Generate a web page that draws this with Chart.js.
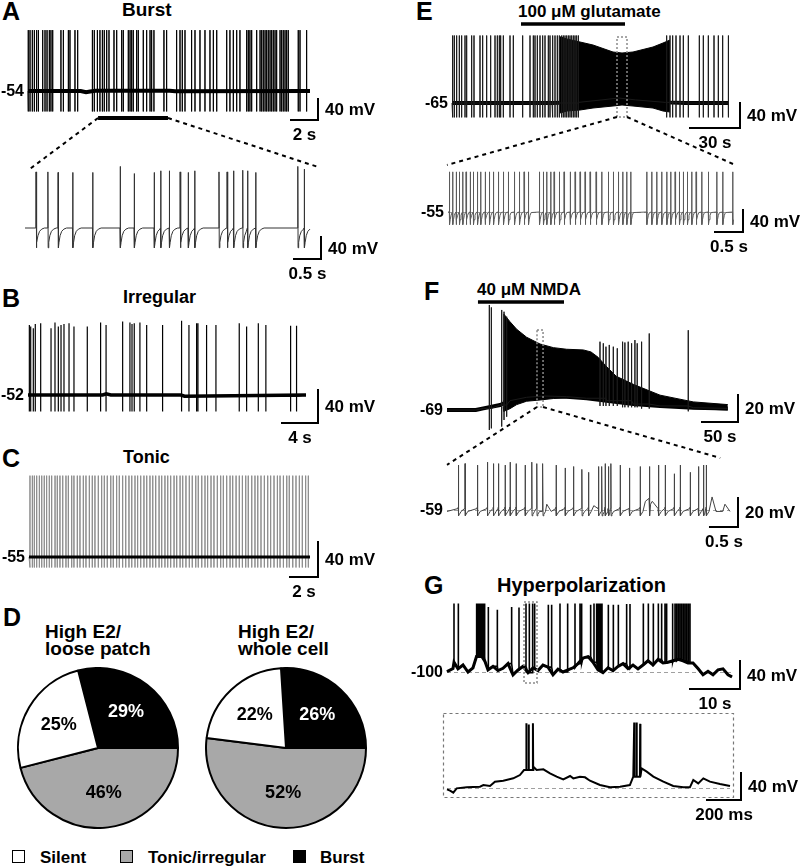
<!DOCTYPE html>
<html>
<head>
<meta charset="utf-8">
<title>Firing patterns</title>
<script src="https://cdn.jsdelivr.net/npm/chart.js"></script>
<style>
html,body{margin:0;padding:0;background:#fff;}
#fig{position:relative;width:800px;height:867px;overflow:hidden;background:#fff;font-family:"Liberation Sans",Arial,Helvetica,sans-serif;font-weight:bold;color:#000;}
#fig canvas{position:absolute;}
.t{position:absolute;white-space:nowrap;line-height:1;}
.L{font-size:25px;}
.sq{position:absolute;width:11px;height:11px;border:1.5px solid #000;}
</style>
</head>
<body>
<div id="fig">
  <div class="t L" style="left:2px;top:-1px">A</div>
  <div class="t" style="left:122px;top:0px;font-size:19px">Burst</div>
  <div class="t L" style="left:2px;top:286px">B</div>
  <div class="t" style="left:123px;top:288px;font-size:18px">Irregular</div>
  <div class="t L" style="left:2px;top:446px">C</div>
  <div class="t" style="left:123px;top:448px;font-size:18px">Tonic</div>
  <div class="t L" style="left:3px;top:605px">D</div>
  <div class="t" style="left:45px;top:622px;font-size:19px">High E2/</div>
  <div class="t" style="left:45px;top:639px;font-size:19px">loose patch</div>
  <div class="t" style="left:238px;top:622px;font-size:19px">High E2/</div>
  <div class="t" style="left:238px;top:639px;font-size:19px">whole cell</div>
  <div class="sq" style="left:12px;top:850px;background:#fff"></div>
  <div class="t" style="left:40px;top:849px;font-size:17px">Silent</div>
  <div class="sq" style="left:120px;top:850px;background:#a8a8a8"></div>
  <div class="t" style="left:148px;top:849px;font-size:17px">Tonic/irregular</div>
  <div class="sq" style="left:293px;top:850px;background:#000"></div>
  <div class="t" style="left:320px;top:849px;font-size:17px">Burst</div>
  <div class="t L" style="left:416px;top:-1px">E</div>
  <div class="t" style="left:518px;top:3px;font-size:17px">100 μM glutamate</div>
  <div class="t L" style="left:424px;top:279px">F</div>
  <div class="t" style="left:477px;top:281px;font-size:17px">40 μM NMDA</div>
  <div class="t L" style="left:424px;top:573px">G</div>
  <div class="t" style="left:497px;top:575px;font-size:20px">Hyperpolarization</div>
</div>
<script>
// ================= DATA =================
// Panel A – burst firing (time s, membrane potential mV)
const aSpikeTimes = [0.02,0.15,0.32,0.47,0.64,0.77,1.09,1.26,1.41,1.58,1.70,1.83,2.44,2.62,2.99,3.11,3.48,3.68,4.77,4.91,5.14,5.33,5.51,5.65,5.83,6.00,6.37,6.57,6.94,7.06,7.43,7.56,7.68,7.80,8.05,8.17,8.54,8.79,9.04,9.16,9.33,10.07,10.27,11.01,11.26,11.43,11.63,12.12,12.37,12.74,13.11,13.48,13.73,13.98,14.72,14.96,15.21,15.46,15.70,16.20,16.32,16.44,16.57,16.94,17.19,17.31,17.43,17.56,17.68,17.80,17.93,18.05,18.17,18.30,18.42,18.67,18.79,18.91,19.04,19.16,19.28,20.02,20.15,20.64];
const aSpikePeak = 62;
const aSpikeTrough = -93;
const aBaseT = [0, 3.9, 4.3, 4.6, 5.0, 10.5, 10.9, 20.89];
const aBaseV = [-54, -54, -56.5, -55, -53.5, -53.5, -54.5, -54];
const aDuration = 20.89;
const aBurstWindow = [5.19, 10.37];
// Panel A inset (expanded burst window)
const aInsetTimes = [0.20,0.42,0.61,0.88,1.25,1.76,2.02,2.39,2.51,2.67,2.87,3.02,3.14,3.59,3.74,3.86,4.03,4.12,4.27,5.05,5.17];
const aInsetPeaks = [48,48,47,47,47,58,45,47,50,50,48,47,50,48,48,50,51,50,47,58,53];
const aInsetTrough = -90;
const aInsetBaseT = [0, 5.28];
const aInsetBaseV = [-54, -54];
const aInsetShape = [[0,0],[0.004,'P'],[0.009,'T'],[0.02,-26],[0.04,-14],[0.07,-6],[0.11,-2],[0.16,0]];
const aInsetDuration = 5.28;

// Panel B – irregular
const bSpikeTimes = [0.15,0.30,0.59,0.81,1.41,2.56,3.00,3.37,3.67,4.00,4.56,5.11,6.59,8.07,8.67,10.52,11.33,11.56,11.81,12.44,13.19,14.96,17.07,17.89,18.74,18.89,19.85,20.89,23.48,24.30,25.60,26.44,29.19,29.85];
const bSpikePeaks = [33,31,29,34,35,29,36,31,33,34,35,31,31,36,33,37,36,34,35,36,33,33,38,33,35,35,33,33,35,31,35,33,32,32];
const bSpikeTrough = -72;
const bBaseT = [0, 8.3, 8.7, 9.2, 17.0, 17.4, 30.9];
const bBaseV = [-52, -52, -50.5, -52, -52, -53.5, -52];
const bDuration = 30.9;

// Panel C – tonic
const cSpikeTimes = [0.07,0.24,0.38,0.55,0.74,0.91,1.09,1.26,1.45,1.62,1.86,2.02,2.21,2.41,2.64,2.81,3.05,3.21,3.45,3.64,3.88,4.07,4.31,4.52,4.71,4.95,5.19,5.38,5.59,5.84,6.02,6.26,6.45,6.69,6.91,7.14,7.34,7.57,7.76,7.98,8.21,8.41,8.64,8.84,9.05,9.29,9.48,9.71,9.91,10.12,10.36,10.55,10.79,10.98,11.21,11.45,11.66,11.91,12.09,12.34,12.57,12.76,13.0,13.21,13.45,13.69,13.88,14.12,14.36,14.55,14.79,15.02,15.24,15.48,15.66,15.91,16.14,16.34,16.57,16.81,17.05,17.26,17.5,17.74,17.93,18.17,18.41,18.59,18.84,19.07,19.31,19.52,19.76,19.95];
const cSpikePeak = 38;
const cSpikeTrough = -67;
const cBaseT = [0, 20.07];
const cBaseV = [-55, -55];
const cDuration = 20.07;

// Panel D – proportions of firing types (%)
const pieCategories = ['Silent', 'Tonic/irregular', 'Burst'];
const loosePatchPct = [25, 46, 29];
const wholeCellPct = [22, 52, 26];

// Panel E – 100 µM glutamate (time s)
const eSpikeTimes = [0.4,1.4,2.8,4.4,5.8,7.8,8.8,11.8,13.2,16.8,18.4,20.8,23.2,25.8,27.2,28.4,29.2,30.8,34.8,36.8,42.4,46.8,48.8,49.8,51.2,52.8,54.4,55.8,57.8,58.8,60.4,61.8,63.2,64.4,65.8,66.8,67.8,68.8,69.8,70.8,71.8,72.8,73.8,74.8,75.8,128.8,130.8,132.4,134.4,136.8,138.8,141.8,148.4,150.8,153.8,157.2,159.8,162.4,165.8];
const eSpikePeak = 43;
const eSpikeTrough = -88;
const eBaseT = [0, 60, 76, 90, 100, 110, 128, 140, 166];
const eBaseV = [-65, -65, -64, -60, -57, -60, -64, -65, -65];
const eDenseT = [64.8, 69, 76.8, 84.6, 96.6, 102, 108.6, 120.6, 126.6, 130.8];
const eDenseTop = [41, 37.4, 32.6, 27.8, 16.6, 15, 16.6, 24.6, 31, 35.8];
const eDenseBottom = [-81, -77.8, -76.2, -73, -69.8, -68.2, -69.8, -73, -77.8, -79.4];
const eDuration = 166.2;
const eDrugWindow = [41.4, 103.8];
const eZoomWindow = [99, 105];
// Panel E inset
const eInsetTimes = [0.024,0.083,0.143,0.202,0.262,0.321,0.393,0.452,0.524,0.583,0.661,0.738,0.810,0.899,0.988,1.077,1.185,1.274,1.357,1.435,1.631,1.702,1.762,1.833,1.893,1.988,2.071,2.179,2.268,2.357,2.446,2.536,2.643,2.744,2.863,2.952,3.042,3.119,3.190,3.262,3.548,3.637,3.726,3.815,3.905,3.976,4.054,4.131,4.202,4.274,4.351,4.429,4.530,4.649,4.798,4.905,5.083];
const eInsetPeak = 18;
const eInsetTrough = -78;
const eInsetBaseT = [0, 5.09];
const eInsetBaseV = [-55, -55];
const eInsetShape = [[0,0],[0.002,'P'],[0.005,'T'],[0.015,-14],[0.03,-6],[0.05,-1]];
const eInsetDuration = 5.09;

// Panel F – 40 µM NMDA (time s)
const fSpikeTimes = [58.8,61.6,76,79.2,82.9,212.5,217.1,220.8,225.4,231,236.5,243.9,247.1,251.7,256.4,261,264.2,270.3,280.9,335.1];
const fSpikePeaks = [8.8,7.0,5.1,3.8,0.1,-18.4,-19.6,-22.1,-20.8,-22.1,-23.3,-18.4,-19,-18.4,-19.6,-17.2,-19.6,-18.4,-12.3,-9.9];
const fSpikeTroughs = [-83.8,-82.6,-81.3,-76.4,-74,-66,-66,-66,-66,-66,-66,-67,-67,-67,-67,-67,-67,-68,-68,-70];
const fBaseT = [0, 40, 50.5, 73.6, 87.5, 110.6, 133.8, 166.2, 194, 221.8, 258.8, 295.9, 342.2, 390];
const fBaseV = [-69, -69, -67.8, -65.3, -62.1, -59.6, -58.6, -59.1, -60.3, -62.1, -64.6, -66, -67.3, -67.8];
const fDenseT = [78, 79, 87.5, 96.8, 110.6, 129.2, 147.7, 166.2, 189.4, 200, 210, 220, 235, 258.8, 295.9, 342, 390];
const fDenseTop = [-62, 2, -3.6, -9.2, -15.1, -20.1, -22.8, -24, -24.5, -26, -30, -36, -44, -50, -58, -63, -65];
const fDenseBottom = [-67, -70, -68, -65, -62.5, -61.6, -60.5, -60, -60, -60.3, -60.7, -61.2, -62, -63.5, -66, -68, -69];
const fDuration = 390.3;
const fDrugWindow = [43, 162.5];
const fZoomWindow = [125, 133.4];
// Panel F inset
const fInsetTimes = [0.202,0.321,0.542,0.720,0.827,0.917,1.036,1.125,1.232,1.393,1.512,1.601,1.708,1.946,2.107,2.256,2.405,2.524,2.702,2.762,2.821,2.881,2.923,3.089,3.256,3.446,3.613,3.774,3.893,4.054,4.161,4.339,4.488,4.577,4.625];
const fInsetPeaks = [-28,-27,-28,-26,-27,-27,-28,-26,-27,-28,-26,-27,-27,-28,-30,-29,-31,-33,-29,-29,-27,-29,-27,-28,-30,-29,-29,-28,-28,-34,-28,-33,-29,-28,-28];
const fInsetTrough = -63;
const fInsetBaseT = [0, 1.70, 1.78, 1.86, 2.55, 2.62, 2.70, 3.45, 3.54, 3.62, 4.66, 4.73, 4.80, 4.92, 4.96, 5.05];
const fInsetBaseV = [-60, -60, -55, -60, -60, -56, -60, -60, -53, -60, -60, -50, -60, -60, -55, -60];
const fInsetShape = [[-0.008,2],[0,3],[0.002,'P'],[0.006,'T'],[0.02,-2],[0.05,0]];
const fInsetDuration = 5.05;

// Panel G – hyperpolarized cell (time s)
const gSlowT = [0,1.2,1.4,2.2,3.2,4.2,5.2,5.9,7.0,7.6,8.2,8.6,9.2,10.2,11.2,12.2,13.2,14.2,15.2,16.2,17.2,18.2,19.2,20.2,21.2,22.2,23.2,24.2,25.2,26.2,27.2,28.2,29.2,30.2,31.2,32.2,33.2,34.2,35.2,36.2,37.2,38.2,39.2,40.2,41.2,42.2,43.2,44.2,45.2,46.2,47.2,48.2,49.2,50.2,51.2,52.2,53.2,54.2,55.2,56.2,57];
const gSlowV = [-99.5,-95,-86,-95.5,-90,-100,-94,-78,-78,-85,-97,-95,-92,-98,-94.8,-88,-104,-97,-92,-101,-94,-98,-90,-93,-104,-96,-100,-97,-94,-88,-80,-78,-86,-97,-101,-94,-98,-92,-88,-95,-90,-95.5,-90,-84,-90,-82,-87,-86,-84,-82,-84,-87,-87,-95,-104,-99,-104,-97,-95.5,-104,-107];
const gSpikeTimes = [1.4,2.27,5.93,6.2,6.47,6.73,7.0,7.27,7.53,8.27,10.07,12.93,14.4,15.8,16.47,17.13,17.53,20.27,20.93,22.6,24.13,25.6,26.6,26.93,28.73,29.4,29.93,30.2,30.47,30.73,31.0,32.27,33.27,34.27,35.93,36.6,39.27,40.27,41.27,42.27,42.93,43.6,43.93,45.13,45.6,45.93,46.27,46.6,46.93,47.27,47.6,47.93,48.27,48.6];
const gSpikePeaks = [-2,-2,-2,-2,-2,-2,-2,-2,-2,-7,-11,-7,-8,-2,-2,-2,-2,-4,-4,-2,-2,-2,-2,-2,-4,-2,-2,-2,-2,-2,-2,-4,-4,-4,-3,-3,-2,-2,-2,-2,-2,-2,-2,-2,-2,-2,-2,-2,-2,-2,-2,-2,-2,-2];
const gDuration = 57;
const gZoomWindow = [15.4, 18];
// Panel G inset
const gInsetSlowT = [0,0.018,0.037,0.057,0.116,0.194,0.214,0.253,0.282,0.331,0.390,0.429,0.453,0.508,0.527,0.567,0.606,0.645,0.684,0.724,0.743,0.782,0.812,0.841,0.900,0.959,1.018,1.076,1.096,1.145,1.175,1.214,1.273,1.331,1.390,1.429,1.449,1.478,1.508,1.547,1.606,1.665];
const gInsetSlowV = [-102,-104,-106.9,-100.5,-99,-98,-95.6,-97,-90.6,-89.2,-85.7,-80.8,-73.4,-68.4,-73.4,-72.4,-78.3,-83.2,-87.2,-82.2,-85.7,-83.2,-84.2,-89.2,-95.6,-99,-98,-95.6,-83.2,-70.9,-75.8,-83.2,-90.6,-97,-99,-99,-88.2,-93.1,-85.7,-90.6,-94.1,-97];
const gInsetSpikeTimes = [0.465, 0.479, 0.504, 1.100, 1.114, 1.135];
const gInsetSpikePeaks = [-4, -6, -4, -3, -3, -5];
const gInsetDuration = 1.665;

// ================= HELPERS =================
Chart.defaults.font.family = '"Liberation Sans", Arial, sans-serif';
const FONT = '"Liberation Sans", Arial, sans-serif';
const fig = document.getElementById('fig');

function baseAt(bT, bV, t) { let v = bV[0]; for (let i = 0; i < bT.length && bT[i] <= t; i++) v = bV[i]; return v; }
function pick(p, i) { return Array.isArray(p) ? p[i] : p; }
function pairs(T, V) { return T.map((t, i) => ({x: t, y: V[i]})); }

// Build a voltage trace from a slow baseline plus spikes placed at the listed times
function buildTrace(o) {
  const spikes = o.spikeT || [];
  const shape = o.shape || [[0,0],[0,'P'],[0,'T'],[0,0]];
  const first = shape[0][0], span = shape[shape.length - 1][0];
  const pts = []; let k = 0;
  o.baseT.forEach((t, i) => {
    const inside = spikes.some(s => t > s + first && t < s + span);
    if (!inside) pts.push({x: t, y: o.baseV[i], k: k++});
  });
  spikes.forEach((s, i) => {
    const b = baseAt(o.baseT, o.baseV, s);
    const next = i + 1 < spikes.length ? spikes[i + 1] + first : Infinity;
    shape.forEach(([dt, dv], j) => {
      const x = s + dt;
      if (j > 0 && x >= next) return;
      const y = dv === 'P' ? pick(o.peak, i) : dv === 'T' ? pick(o.trough, i) : b + dv;
      pts.push({x, y, k: k++});
    });
  });
  pts.sort((p, q) => (p.x - q.x) || (p.k - q.k));
  return pts.map(p => ({x: p.x, y: p.y}));
}

function ds(data, color, width, extra) {
  return Object.assign({data, borderColor: color, borderWidth: width, pointRadius: 0, fill: false, tension: 0, clip: false, borderJoinStyle: 'miter'}, extra || {});
}

function decor(cfg) {
  return {
    id: 'decor',
    beforeDatasetsDraw(chart) {
      const {ctx, chartArea: a, scales: {x, y}} = chart;
      ctx.save();
      if (cfg.dashedRef !== undefined) {
        ctx.strokeStyle = '#a0a0a0'; ctx.lineWidth = 1; ctx.setLineDash([4, 3]);
        const py = Math.round(y.getPixelForValue(cfg.dashedRef)) + 0.5;
        ctx.beginPath(); ctx.moveTo(a.left, py); ctx.lineTo(a.right, py); ctx.stroke();
      }
      if (cfg.frame) {
        const f = cfg.frame;
        ctx.strokeStyle = '#777'; ctx.lineWidth = 1.2; ctx.setLineDash([3, 3]);
        ctx.strokeRect(a.left - f[0] + 0.5, a.top - f[1] + 0.5, a.right - a.left + f[0] + f[2], a.bottom - a.top + f[1] + f[3]);
      }
      ctx.restore();
    },
    afterDatasetsDraw(chart) {
      const {ctx, chartArea: a, scales: {x, y}} = chart;
      const ox = cfg.box[0], oy = cfg.box[1];
      ctx.save();
      if (cfg.rest) {
        ctx.font = 'bold 16px ' + FONT; ctx.fillStyle = '#000';
        ctx.textAlign = 'right'; ctx.textBaseline = 'middle';
        ctx.fillText(cfg.rest.text, a.left - 4, y.getPixelForValue(cfg.rest.val) + 1);
      }
      (cfg.hbars || []).forEach(h => {
        ctx.strokeStyle = '#000'; ctx.lineWidth = h.w; ctx.setLineDash([]); ctx.lineCap = 'butt';
        ctx.beginPath();
        ctx.moveTo(x.getPixelForValue(h.t0), y.getPixelForValue(h.v));
        ctx.lineTo(x.getPixelForValue(h.t1), y.getPixelForValue(h.v));
        ctx.stroke();
      });
      if (cfg.zoomBox) {
        const z = cfg.zoomBox;
        const x0 = x.getPixelForValue(z.t0), x1 = x.getPixelForValue(z.t1);
        const y0 = y.getPixelForValue(z.v1), y1 = y.getPixelForValue(z.v0);
        ctx.strokeStyle = '#8a8a8a'; ctx.lineWidth = 1.5; ctx.setLineDash([2, 2]);
        ctx.strokeRect(x0, y0, x1 - x0, y1 - y0);
      }
      const sb = cfg.bar;
      if (sb) {
        const cx = sb.x - ox, cy = sb.y - oy;
        const hl = x.getPixelForValue(sb.dt) - x.getPixelForValue(0);
        const vl = y.getPixelForValue(0) - y.getPixelForValue(sb.dv);
        ctx.setLineDash([]); ctx.strokeStyle = '#000'; ctx.lineWidth = 2; ctx.lineCap = 'square';
        ctx.beginPath(); ctx.moveTo(cx - hl, cy); ctx.lineTo(cx, cy); ctx.lineTo(cx, cy - vl); ctx.stroke();
        ctx.font = 'bold 17px ' + FONT; ctx.fillStyle = '#000'; ctx.textBaseline = 'middle';
        ctx.textAlign = 'left'; ctx.fillText(sb.vText, cx + 7, cy - vl / 2 + 1);
        ctx.textAlign = 'center'; ctx.fillText(sb.tText, cx - hl / 2, cy + 15);
      }
      ctx.restore();
    }
  };
}

function makeTrace(cfg) {
  const c = document.createElement('canvas');
  c.width = cfg.box[2]; c.height = cfg.box[3];
  c.style.left = cfg.box[0] + 'px'; c.style.top = cfg.box[1] + 'px';
  fig.appendChild(c);
  const [l, t, r, b] = cfg.area;
  const mvpp = cfg.ref.mv / cfg.ref.px;
  const yMax = cfg.ref.val + (cfg.ref.at - t) * mvpp;
  const yMin = cfg.ref.val - (b - cfg.ref.at) * mvpp;
  const ch = new Chart(c, {
    type: 'line',
    data: {datasets: cfg.datasets},
    options: {
      responsive: false, animation: false, devicePixelRatio: 1, events: [],
      layout: {padding: {left: l - cfg.box[0], right: cfg.box[0] + cfg.box[2] - r, top: t - cfg.box[1], bottom: cfg.box[1] + cfg.box[3] - b}},
      scales: {
        x: {type: 'linear', display: false, min: 0, max: cfg.xMax},
        y: {type: 'linear', display: false, min: yMin, max: yMax}
      },
      plugins: {legend: {display: false}, tooltip: {enabled: false}, title: {display: false}}
    },
    plugins: [decor(cfg)]
  });
  ch._box = cfg.box;
  return ch;
}

// ================= PANEL A =================
const chA = makeTrace({
  box: [0, 20, 400, 128], area: [28, 26, 310, 114], xMax: aDuration,
  ref: {at: 91, val: -54, mv: 40, px: 21},
  datasets: [
    ds(buildTrace({baseT: aBaseT, baseV: aBaseV, spikeT: aSpikeTimes, peak: aSpikePeak, trough: aSpikeTrough}), '#000', 1),
    ds(pairs(aBaseT, aBaseV), '#000', 4)
  ],
  rest: {text: '-54', val: -54},
  hbars: [{t0: aBurstWindow[0], t1: aBurstWindow[1], v: -105.4, w: 4}],
  bar: {x: 318, y: 120, dt: 2, dv: 40, tText: '2 s', vText: '40 mV'}
});
const chAi = makeTrace({
  box: [0, 158, 400, 130], area: [25, 164, 310, 252], xMax: aInsetDuration,
  ref: {at: 228, val: -54, mv: 40, px: 22},
  datasets: [
    ds(buildTrace({baseT: aInsetBaseT, baseV: aInsetBaseV, spikeT: aInsetTimes, peak: aInsetPeaks, trough: aInsetTrough, shape: aInsetShape}), '#333', 1)
  ],
  bar: {x: 321, y: 259, dt: 0.5, dv: 40, tText: '0.5 s', vText: '40 mV'}
});

// ================= PANEL B =================
const chB = makeTrace({
  box: [0, 310, 400, 138], area: [28, 318, 306, 416], xMax: bDuration,
  ref: {at: 395, val: -52, mv: 40, px: 33},
  datasets: [
    ds(buildTrace({baseT: bBaseT, baseV: bBaseV, spikeT: bSpikeTimes, peak: bSpikePeaks, trough: bSpikeTrough}), '#000', 1.2),
    ds(pairs(bBaseT, bBaseV), '#000', 3.5)
  ],
  rest: {text: '-52', val: -52},
  bar: {x: 318, y: 423, dt: 4, dv: 40, tText: '4 s', vText: '40 mV'}
});

// ================= PANEL C =================
const chC = makeTrace({
  box: [0, 460, 400, 138], area: [29, 464, 310, 572], xMax: cDuration,
  ref: {at: 557, val: -55, mv: 40, px: 35},
  datasets: [
    ds(pairs(cBaseT, cBaseV), '#000', 3),
    ds(buildTrace({baseT: cBaseT, baseV: cBaseV, spikeT: cSpikeTimes, peak: cSpikePeak, trough: cSpikeTrough}), '#8c8c8c', 1)
  ],
  rest: {text: '-55', val: -55},
  bar: {x: 318, y: 577, dt: 2, dv: 40, tText: '2 s', vText: '40 mV'}
});

// ================= PANEL D (pies) =================
const pieColors = ['#ffffff', '#a8a8a8', '#000000'];
const pieTextColors = ['#000', '#000', '#fff'];
const pieOrder = [2, 1, 0]; // clockwise: Burst, Tonic/irregular, Silent
const pieLabels = {
  id: 'pieLabels',
  afterDatasetsDraw(chart) {
    const {ctx} = chart;
    const meta = chart.getDatasetMeta(0);
    const vals = chart.data.datasets[0].data;
    ctx.save();
    ctx.font = 'bold 18px ' + FONT; ctx.textAlign = 'center'; ctx.textBaseline = 'middle';
    meta.data.forEach((arc, i) => {
      const p = arc.getProps(['x', 'y', 'startAngle', 'endAngle', 'outerRadius'], true);
      const m = (p.startAngle + p.endAngle) / 2;
      const r = p.outerRadius * 0.57;
      ctx.fillStyle = pieTextColors[pieOrder[i]];
      ctx.fillText(vals[i] + '%', p.x + Math.cos(m) * r, p.y + Math.sin(m) * r);
    });
    ctx.restore();
  }
};
function makePie(box, pct) {
  const c = document.createElement('canvas');
  c.width = box[2]; c.height = box[3];
  c.style.left = box[0] + 'px'; c.style.top = box[1] + 'px';
  fig.appendChild(c);
  return new Chart(c, {
    type: 'pie',
    data: {
      labels: pieOrder.map(i => pieCategories[i]),
      datasets: [{data: pieOrder.map(i => pct[i]), backgroundColor: pieOrder.map(i => pieColors[i]), borderColor: '#000', borderWidth: 2}]
    },
    options: {
      responsive: false, animation: false, devicePixelRatio: 1, events: [],
      rotation: 90 - pct[2] * 3.6,
      layout: {padding: 0},
      plugins: {legend: {display: false}, tooltip: {enabled: false}}
    },
    plugins: [pieLabels]
  });
}
makePie([17, 667, 162, 162], loosePatchPct);
makePie([205, 667, 162, 162], wholeCellPct);

// ================= PANEL E =================
const chE = makeTrace({
  box: [400, 16, 400, 140], area: [452, 30, 729, 120], xMax: eDuration,
  ref: {at: 103, val: -65, mv: 40, px: 25},
  datasets: [
    ds(buildTrace({baseT: eBaseT, baseV: eBaseV, spikeT: eSpikeTimes, peak: eSpikePeak, trough: eSpikeTrough}), '#1a1a1a', 1),
    ds(pairs(eBaseT, eBaseV), '#000', 4),
    ds(pairs(eDenseT, eDenseTop), '#000', 1, {fill: '+1', backgroundColor: '#000'}),
    ds(pairs(eDenseT, eDenseBottom), '#000', 1)
  ],
  rest: {text: '-65', val: -65},
  hbars: [{t0: eDrugWindow[0], t1: eDrugWindow[1], v: 61.4, w: 3.5}],
  zoomBox: {t0: eZoomWindow[0], t1: eZoomWindow[1], v0: -87.4, v1: 40.6},
  bar: {x: 740, y: 128, dt: 30, dv: 40, tText: '30 s', vText: '40 mV'}
});
const chEi = makeTrace({
  box: [400, 158, 400, 102], area: [448, 168, 733, 230], xMax: eInsetDuration,
  ref: {at: 212, val: -55, mv: 40, px: 22},
  datasets: [
    ds(buildTrace({baseT: eInsetBaseT, baseV: eInsetBaseV, spikeT: eInsetTimes, peak: eInsetPeak, trough: eInsetTrough, shape: eInsetShape}), '#5a5a5a', 1)
  ],
  rest: {text: '-55', val: -55},
  dashedRef: -55,
  bar: {x: 743, y: 232, dt: 0.5, dv: 40, tText: '0.5 s', vText: '40 mV'}
});

// ================= PANEL F =================
const chF = makeTrace({
  box: [400, 294, 400, 154], area: [447, 303, 728, 432], xMax: fDuration,
  ref: {at: 410, val: -69, mv: 20, px: 27},
  datasets: [
    ds(buildTrace({baseT: fBaseT, baseV: fBaseV, spikeT: fSpikeTimes, peak: fSpikePeaks, trough: fSpikeTroughs}), '#1a1a1a', 1),
    ds(pairs(fBaseT, fBaseV), '#000', 4),
    ds(pairs(fDenseT, fDenseTop), '#000', 1, {fill: '+1', backgroundColor: '#000'}),
    ds(pairs(fDenseT, fDenseBottom), '#000', 1)
  ],
  rest: {text: '-69', val: -69},
  hbars: [{t0: fDrugWindow[0], t1: fDrugWindow[1], v: 11, w: 3.5}],
  zoomBox: {t0: fZoomWindow[0], t1: fZoomWindow[1], v0: -66.8, v1: -9.7},
  bar: {x: 738, y: 422, dt: 50, dv: 20, tText: '50 s', vText: '20 mV'}
});
const chFi = makeTrace({
  box: [400, 452, 400, 96], area: [447, 460, 730, 520], xMax: fInsetDuration,
  ref: {at: 510, val: -59, mv: 20, px: 29},
  datasets: [
    ds(buildTrace({baseT: fInsetBaseT, baseV: fInsetBaseV, spikeT: fInsetTimes, peak: fInsetPeaks, trough: fInsetTrough, shape: fInsetShape}), '#444', 1)
  ],
  rest: {text: '-59', val: -59},
  dashedRef: -59,
  bar: {x: 738, y: 527, dt: 0.5, dv: 20, tText: '0.5 s', vText: '20 mV'}
});

// ================= PANEL G =================
const chG = makeTrace({
  box: [400, 594, 400, 118], area: [447, 600, 732, 686], xMax: gDuration,
  ref: {at: 672, val: -100, mv: 40, px: 28},
  datasets: [
    ds(buildTrace({baseT: gSlowT, baseV: gSlowV, spikeT: gSpikeTimes, peak: gSpikePeaks, shape: [[0,0],[0,'P'],[0,0]]}), '#000', 1.6),
    ds(pairs(gSlowT, gSlowV), '#000', 3)
  ],
  rest: {text: '-100', val: -100},
  dashedRef: -100,
  zoomBox: {t0: gZoomWindow[0], t1: gZoomWindow[1], v0: -115.7, v1: 0},
  bar: {x: 740, y: 689, dt: 10, dv: 40, tText: '10 s', vText: '40 mV'}
});
const chGi = makeTrace({
  box: [400, 706, 400, 124], area: [447, 716, 730, 795], xMax: gInsetDuration,
  ref: {at: 788, val: -100, mv: 40, px: 27},
  datasets: [
    ds(buildTrace({baseT: gInsetSlowT, baseV: gInsetSlowV, spikeT: gInsetSpikeTimes, peak: gInsetSpikePeaks, shape: [[0,0],[0.0015,'P'],[0.003,0]]}), '#000', 2)
  ],
  dashedRef: -100,
  frame: [4, 3, 3, 2],
  bar: {x: 741, y: 800, dt: 0.2, dv: 40, tText: '200 ms', vText: '40 mV'}
});

// ================= dashed connectors between overview and expansions =================
function pagePt(ch, t, v) { return {x: ch._box[0] + ch.scales.x.getPixelForValue(t), y: ch._box[1] + ch.scales.y.getPixelForValue(v)}; }
const ov = document.createElement('canvas');
ov.width = 800; ov.height = 867; ov.style.left = '0px'; ov.style.top = '0px';
fig.appendChild(ov);
const octx = ov.getContext('2d');
octx.strokeStyle = '#000'; octx.lineWidth = 2; octx.setLineDash([4, 4]);
function link(p, q) { octx.beginPath(); octx.moveTo(p.x, p.y); octx.lineTo(q.x, q.y); octx.stroke(); }
link(pagePt(chA, aBurstWindow[0], -105.4), pagePt(chAi, 0.09, 53.3));
link(pagePt(chA, aBurstWindow[1], -105.4), pagePt(chAi, 5.43, 56.9));
link(pagePt(chE, eZoomWindow[0], -87.4), pagePt(chEi, -0.018, 30.5));
link(pagePt(chE, eZoomWindow[1], -87.4), pagePt(chEi, 5.09, 32.3));
link(pagePt(chF, fZoomWindow[0], -66.8), pagePt(chFi, 0, -27.9));
link(pagePt(chF, fZoomWindow[1], -66.8), pagePt(chFi, 4.875, -23.1));
</script>
</body>
</html>
